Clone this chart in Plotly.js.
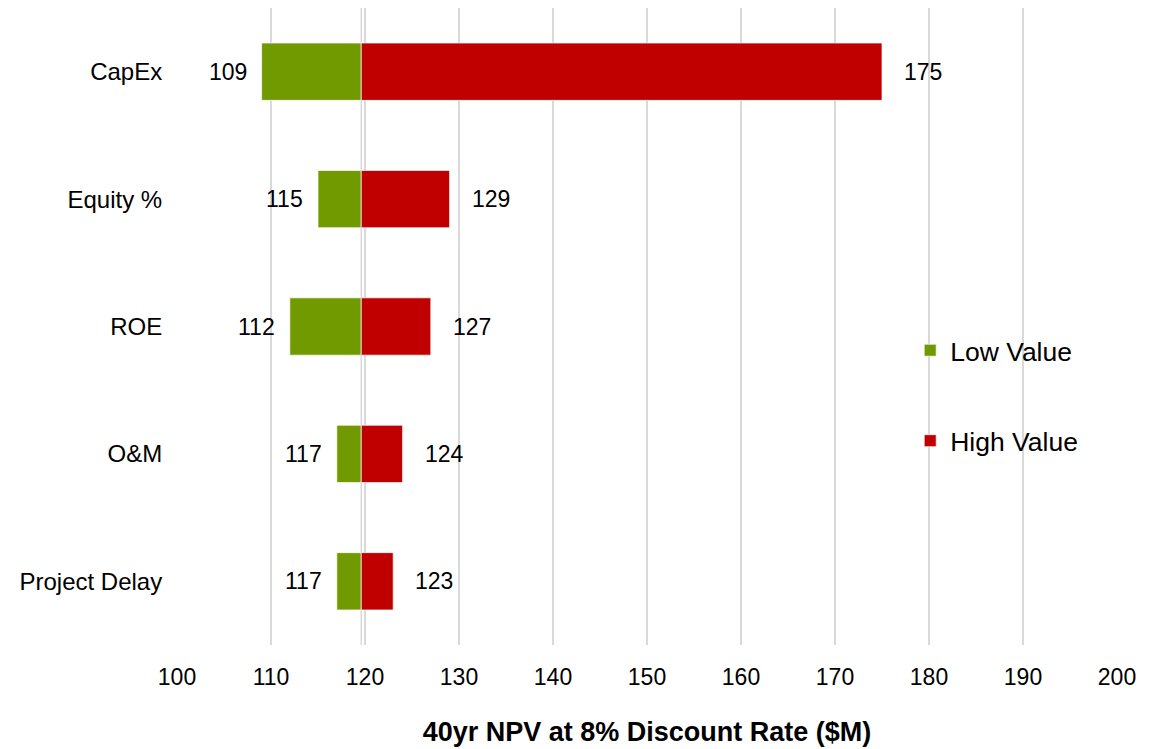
<!DOCTYPE html>
<html>
<head>
<meta charset="utf-8">
<script src="https://cdn.plot.ly/plotly-3.0.1.min.js"></script>
<style>
  html, body { margin: 0; padding: 0; background: #ffffff; }
  #chart { width: 1160px; height: 749px; }
</style>
</head>
<body>
<div id="chart"></div>
<script>
// Sensitivity of 40-year NPV to each input, swung low and high around the base case
const categories = ['CapEx', 'Equity %', 'ROE', 'O&M', 'Project Delay'];
const lowValues  = [109, 115, 112, 117, 117];
const highValues = [175, 129, 127, 124, 123];
const baseCase   = 119.6;
const xTicks     = [100, 110, 120, 130, 140, 150, 160, 170, 180, 190, 200];

const FONT = 'Arial, "Liberation Sans", sans-serif';
const GREEN = '#719a00';
const RED = '#c00000';

const lowTrace = {
  type: 'bar',
  orientation: 'h',
  name: 'Low Value',
  legendgroup: 'low',
  y: categories,
  base: categories.map(() => baseCase),
  x: lowValues.map(v => v - baseCase),
  width: 0.45,
  marker: { color: GREEN, line: { color: 'rgba(255,255,255,0.7)', width: 1 } },
  hovertemplate: '%{y}: %{customdata}<extra>Low Value</extra>',
  customdata: lowValues
};

const highTrace = {
  type: 'bar',
  orientation: 'h',
  name: 'High Value',
  legendgroup: 'high',
  y: categories,
  base: categories.map(() => baseCase),
  x: highValues.map(v => v - baseCase),
  width: 0.45,
  marker: { color: RED, line: { color: 'rgba(255,255,255,0.7)', width: 1 } },
  hovertemplate: '%{y}: %{customdata}<extra>High Value</extra>',
  customdata: highValues
};

// Value labels beside the outer end of each bar
const labelFont = { family: FONT, size: 23, color: '#000000' };
const annotations = [];
categories.forEach((c, i) => {
  annotations.push({
    x: lowValues[i], y: c, xref: 'x', yref: 'y',
    text: String(lowValues[i]), showarrow: false,
    xanchor: 'right', yanchor: 'middle', xshift: -13,
    font: labelFont
  });
  annotations.push({
    x: highValues[i], y: c, xref: 'x', yref: 'y',
    text: String(highValues[i]), showarrow: false,
    xanchor: 'left', yanchor: 'middle', xshift: 20,
    font: labelFont
  });
});

const layout = {
  width: 1160,
  height: 749,
  margin: { l: 177, r: 43, t: 8, b: 104 },
  paper_bgcolor: '#ffffff',
  plot_bgcolor: '#ffffff',
  barmode: 'overlay',
  showlegend: true,
  legend: {
    x: 0.78, xanchor: 'left',
    y: 0.50, yanchor: 'top',
    traceorder: 'grouped',
    tracegroupgap: 53,
    font: { family: FONT, size: 26.5, color: '#000000' },
    bgcolor: 'rgba(0,0,0,0)'
  },
  xaxis: {
    range: [100, 200],
    tickvals: xTicks,
    ticktext: xTicks.map(String),
    showgrid: true,
    gridcolor: '#d9d9d9',
    gridwidth: 2,
    zeroline: false,
    showline: false,
    ticks: 'outside',
    ticklen: 11,
    tickcolor: 'rgba(0,0,0,0)',
    tickfont: { family: FONT, size: 23, color: '#000000' },
    fixedrange: true,
    automargin: false,
    title: {
      text: '<b>40yr NPV at 8% Discount Rate ($M)</b>',
      font: { family: FONT, size: 27, color: '#000000' },
      standoff: 33
    }
  },
  yaxis: {
    type: 'category',
    categoryorder: 'array',
    categoryarray: categories,
    range: [4.5, -0.5],
    showgrid: false,
    zeroline: false,
    showline: false,
    ticks: 'outside',
    ticklen: 9,
    tickcolor: 'rgba(0,0,0,0)',
    tickfont: { family: FONT, size: 24, color: '#000000' },
    fixedrange: true,
    automargin: false
  },
  shapes: [{
    type: 'line', xref: 'x', yref: 'paper',
    x0: baseCase, x1: baseCase, y0: 0, y1: 1,
    line: { color: '#d9d9d9', width: 1.5 },
    layer: 'below'
  }],
  annotations: annotations
};

Plotly.newPlot('chart', [lowTrace, highTrace], layout, { displayModeBar: false, staticPlot: true });
</script>
</body>
</html>
